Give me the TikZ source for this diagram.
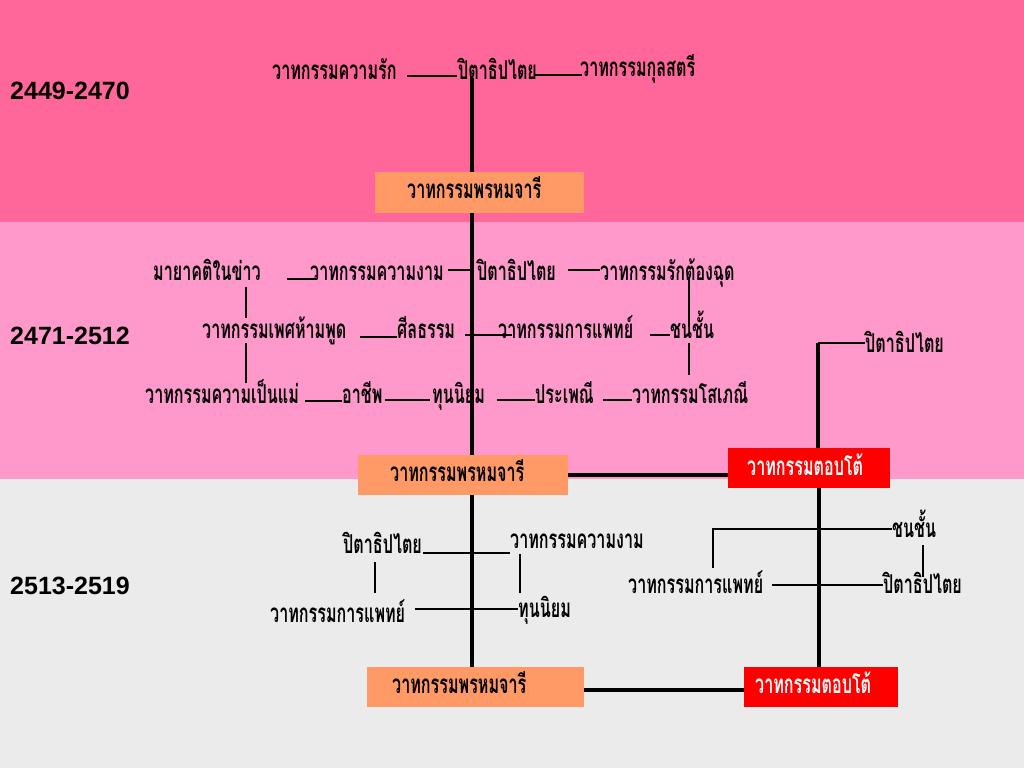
\documentclass[tikz,border=0pt]{standalone}
\usepackage{fontspec}
\newfontfamily\thai[Script=Thai,FakeStretch=0.62]{Loma}
\setmainfont{Liberation Sans}
\definecolor{bandA}{HTML}{FF6699}
\definecolor{bandB}{HTML}{FF99CC}
\definecolor{bandC}{HTML}{EBEBEB}
\definecolor{boxO}{HTML}{FF9966}
\definecolor{boxR}{HTML}{FF0000}
\tikzset{
  lbl/.style={font=\thai\bfseries\fontsize{26}{26}\selectfont, inner sep=0pt, anchor=base west},
  yr/.style={font=\bfseries\fontsize{25}{25}\selectfont, inner sep=0pt, anchor=base west},
  obox/.style={fill=boxO, inner sep=0pt, anchor=north west},
  rbox/.style={fill=boxR, inner sep=0pt, anchor=north west},
  heavy/.style={line width=4.5pt},
  slim/.style={line width=1.2pt, black},
}
\begin{document}
\begin{tikzpicture}[x=1pt,y=-1pt]
\useasboundingbox (0,0) rectangle (1024,768);
% bands
\fill[bandA] (0,0) rectangle (1024,222);
\fill[bandB] (0,222) rectangle (1024,479);
\fill[bandC] (0,479) rectangle (1024,768);
% years
\node[yr] (y1) at (10,99) {2449-2470};
\node[yr] (y2) at (10,344) {2471-2512};
\node[yr] (y3) at (10,594) {2513-2519};
% boxes
\node[obox, minimum width=209pt, minimum height=41pt] (b1) at (375,172) {};
\node[obox, minimum width=210pt, minimum height=40pt] (b2) at (358,455) {};
\node[obox, minimum width=217pt, minimum height=40pt] (b3) at (367,667) {};
\node[rbox, minimum width=162pt, minimum height=40pt] (r1) at (728,448) {};
\node[rbox, minimum width=154pt, minimum height=40pt] (r2) at (744,667) {};
\node[lbl] (b1t) at (407,198) {วาทกรรมพรหมจารี};
\node[lbl] (b2t) at (390,481) {วาทกรรมพรหมจารี};
\node[lbl] (b3t) at (392,693) {วาทกรรมพรหมจารี};
\node[lbl, text=white] (r1t) at (747,475) {วาทกรรมตอบโต้};
\node[lbl, text=white] (r2t) at (755,693) {วาทกรรมตอบโต้};
% top band
\node[lbl] (a1) at (272,79) {วาทกรรมความรัก};
\node[lbl] (a2) at (458,79) {ปิตาธิปไตย};
\node[lbl] (a3) at (580,77) {วาทกรรมกุลสตรี};
% middle band
\node[lbl] (m1) at (153,280) {มายาคติในข่าว};
\node[lbl] (m2) at (310,280) {วาทกรรมความงาม};
\node[lbl] (m3) at (477,280) {ปิตาธิปไตย};
\node[lbl] (m4) at (600,280) {วาทกรรมรักต้องฉุด};
\node[lbl] (m5) at (202,338) {วาทกรรมเพศห้ามพูด};
\node[lbl] (m6) at (397,338) {ศีลธรรม};
\node[lbl] (m7) at (498,338) {วาทกรรมการแพทย์};
\node[lbl] (m8) at (670,338) {ชนชั้น};
\node[lbl] (m9) at (145,403) {วาทกรรมความเป็นแม่};
\node[lbl] (m10) at (342,403) {อาชีพ};
\node[lbl] (m11) at (432,403) {ทุนนิยม};
\node[lbl] (m12) at (535,403) {ประเพณี};
\node[lbl] (m13) at (632,403) {วาทกรรมโสเภณี};
\node[lbl] (m14) at (865,352) {ปิตาธิปไตย};
% bottom band
\node[lbl] (c1) at (343,553) {ปิตาธิปไตย};
\node[lbl] (c2) at (510,548) {วาทกรรมความงาม};
\node[lbl] (c3) at (270,622) {วาทกรรมการแพทย์};
\node[lbl] (c4) at (518,617) {ทุนนิยม};
\node[lbl] (c5) at (892,537) {ชนชั้น};
\node[lbl] (c6) at (628,593) {วาทกรรมการแพทย์};
\node[lbl] (c7) at (883,593) {ปิตาธิปไตย};
% named line ends
\foreach \n/\px/\py in {
  s0/472/78, s1/818/343, k1/818/343, k2/865/343,
  p1/407/76, p2/457/76, p3/535/75, p4/582/75,
  q1/287/279, q2/316/279, q3/448/270, q4/473/270, q5/568/270, q6/600/270,
  v1/246/287, v2/246/318, v3/246/343, v4/246/383,
  v5/689/278, v6/689/327, v7/689/343, v8/689/375,
  h1/360/337, h2/397/337, h3/465/335, h4/512/335, h5/650/335, h6/670/335,
  g1/305/401, g2/342/401, g3/385/400, g4/430/400, g5/497/400, g6/535/400, g7/603/400, g8/632/400,
  d1/423/553, d2/510/553, d3/375/562, d4/375/593, d5/520/554, d6/520/593, d7/415/609, d8/518/609,
  e1/892/529, e2/713/529, e3/713/568, e4/772/585, e5/883/585, e6/923/545, e7/923/577}
  \coordinate (\n) at (\px,\py);
% thick spines
\draw[heavy] (s0) -- (s0 |- b1.north);
\draw[heavy] (s0 |- b1.south) -- (s0 |- b2.north);
\draw[heavy] (s0 |- b2.south) -- (s0 |- b3.north);
\draw[heavy] (s1) -- (s1 |- r1.north);
\draw[heavy] ([xshift=1pt]s1 |- r1.south) -- ([xshift=1pt]s1 |- r2.north);
\draw[heavy] (b2.east) -- (b2.east -| r1.west);
\draw[heavy] ([yshift=-3pt]b3.east) -- ([yshift=-3pt]b3.east -| r2.west);
% thin links
\draw[slim] (p1) -- (p2);
\draw[slim] (p3) -- (p4);
\draw[slim] (q1) -- (q2);
\draw[slim] (q3) -- (q4);
\draw[slim] (q5) -- (q6);
\draw[slim] (v1) -- (v2);
\draw[slim] (v3) -- (v4);
\draw[slim] (v5) -- (v6);
\draw[slim] (v7) -- (v8);
\draw[slim] (h1) -- (h2);
\draw[slim] (h3) -- (h4);
\draw[slim] (h5) -- (h6);
\draw[slim] (g1) -- (g2);
\draw[slim] (g3) -- (g4);
\draw[slim] (g5) -- (g6);
\draw[slim] (g7) -- (g8);
\draw[slim] (k1) -- (k2);
\draw[slim] (d1) -- (d2);
\draw[slim] (d3) -- (d4);
\draw[slim] (d5) -- (d6);
\draw[slim] (d7) -- (d8);
\draw[slim] (e1) -- (e2) -- (e3);
\draw[slim] (e4) -- (e5);
\draw[slim] (e6) -- (e7);
\end{tikzpicture}
\end{document}
